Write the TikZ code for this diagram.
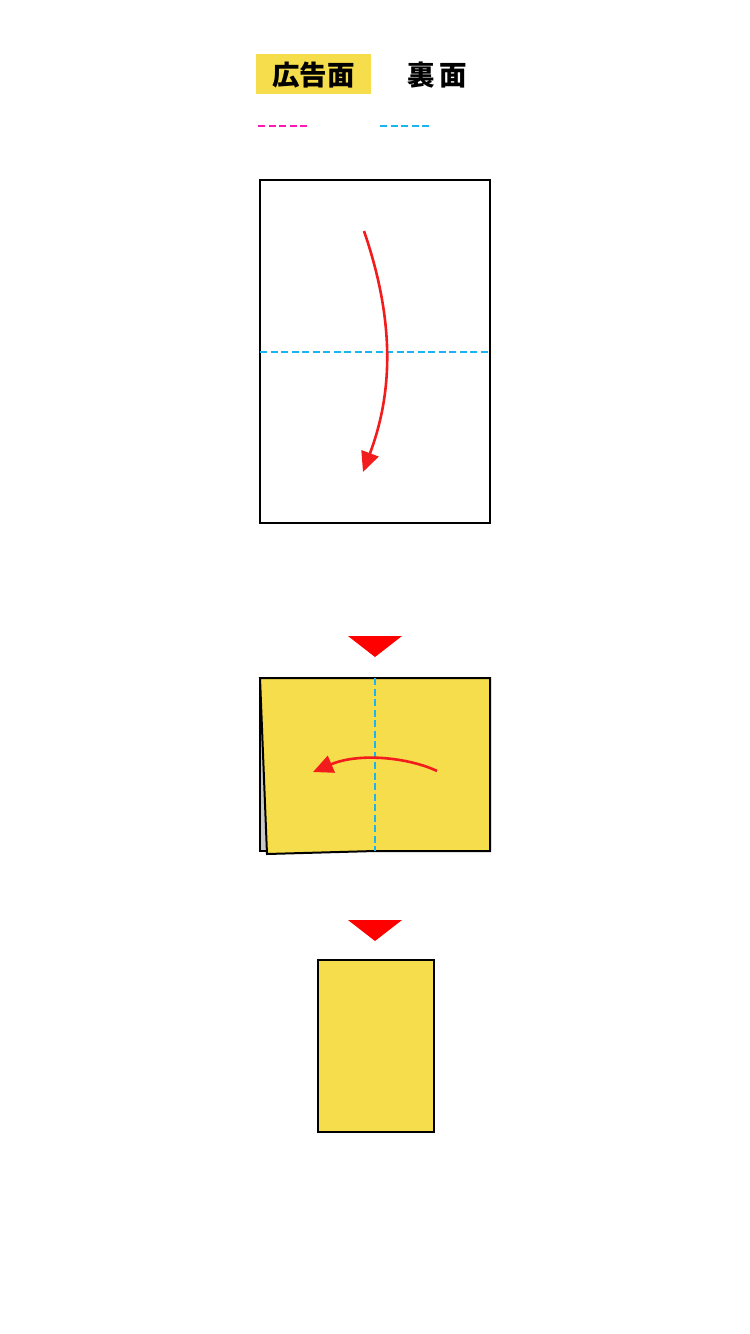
\documentclass[tikz,border=0pt]{standalone}
\usepackage{fontspec}
\newfontfamily\cjk{Noto Sans CJK JP}
\usetikzlibrary{arrows.meta}
\definecolor{paperyellow}{HTML}{F6DD4B}
\definecolor{foldred}{HTML}{F21C1C}
\definecolor{mag}{HTML}{FF1AB4}
\definecolor{cyanl}{HTML}{1AB4F0}
\tikzset{
  sheet/.style={draw=black, line width=2pt, line join=miter},
  valley/.style={draw=cyanl, line width=2pt, dash pattern=on 7pt off 3.5pt},
  mountain/.style={draw=mag, line width=2pt, dash pattern=on 7pt off 3.5pt},
  foldarrow/.style={draw=foldred, line width=2.6pt, -{Triangle[length=20pt,width=18pt]}},
  nexttri/.style={fill=red, draw=none},
  label/.style={font=\cjk\bfseries\fontsize{27.5}{27.5}\selectfont, inner sep=0pt, text=black}
}
\begin{document}
\begin{tikzpicture}[x=1pt,y=-1pt]
\useasboundingbox (0,0) rectangle (750,1334);
% legend
\fill[paperyellow] (256,54) rectangle (371,94);
\node[label] (front) at (313.5,75) {広告面};
\node[label] (back) at (437,75) {裏\hspace{5pt}面};
\draw[mountain] (258,126) -- (307,126);
\draw[valley] (380,126) -- (429,126);
% step 1
\draw[sheet, fill=white] (260,180) rectangle (490,523);
\draw[valley] (260,352) -- (490,352);
\draw[foldarrow] (364,231) .. controls (398,330) and (390,400) .. (363,472);
% next
\fill[nexttri] (348,636) -- (402,636) -- (375,657) -- cycle;
% step 2
\draw[sheet, fill=black!22] (260,678) rectangle (376,851);
\draw[sheet, fill=paperyellow] (260,678) -- (490,678) -- (490,851) -- (375,851) -- (267,854) -- cycle;
\draw[valley] (375,678) -- (375,851);
\draw[foldarrow] (437,771) .. controls (410,758) and (360,752) .. (313,772);
% next
\fill[nexttri] (348,920) -- (402,920) -- (375,941) -- cycle;
% step 3
\draw[sheet, fill=paperyellow] (318,960) rectangle (434,1132);
\end{tikzpicture}
\end{document}
